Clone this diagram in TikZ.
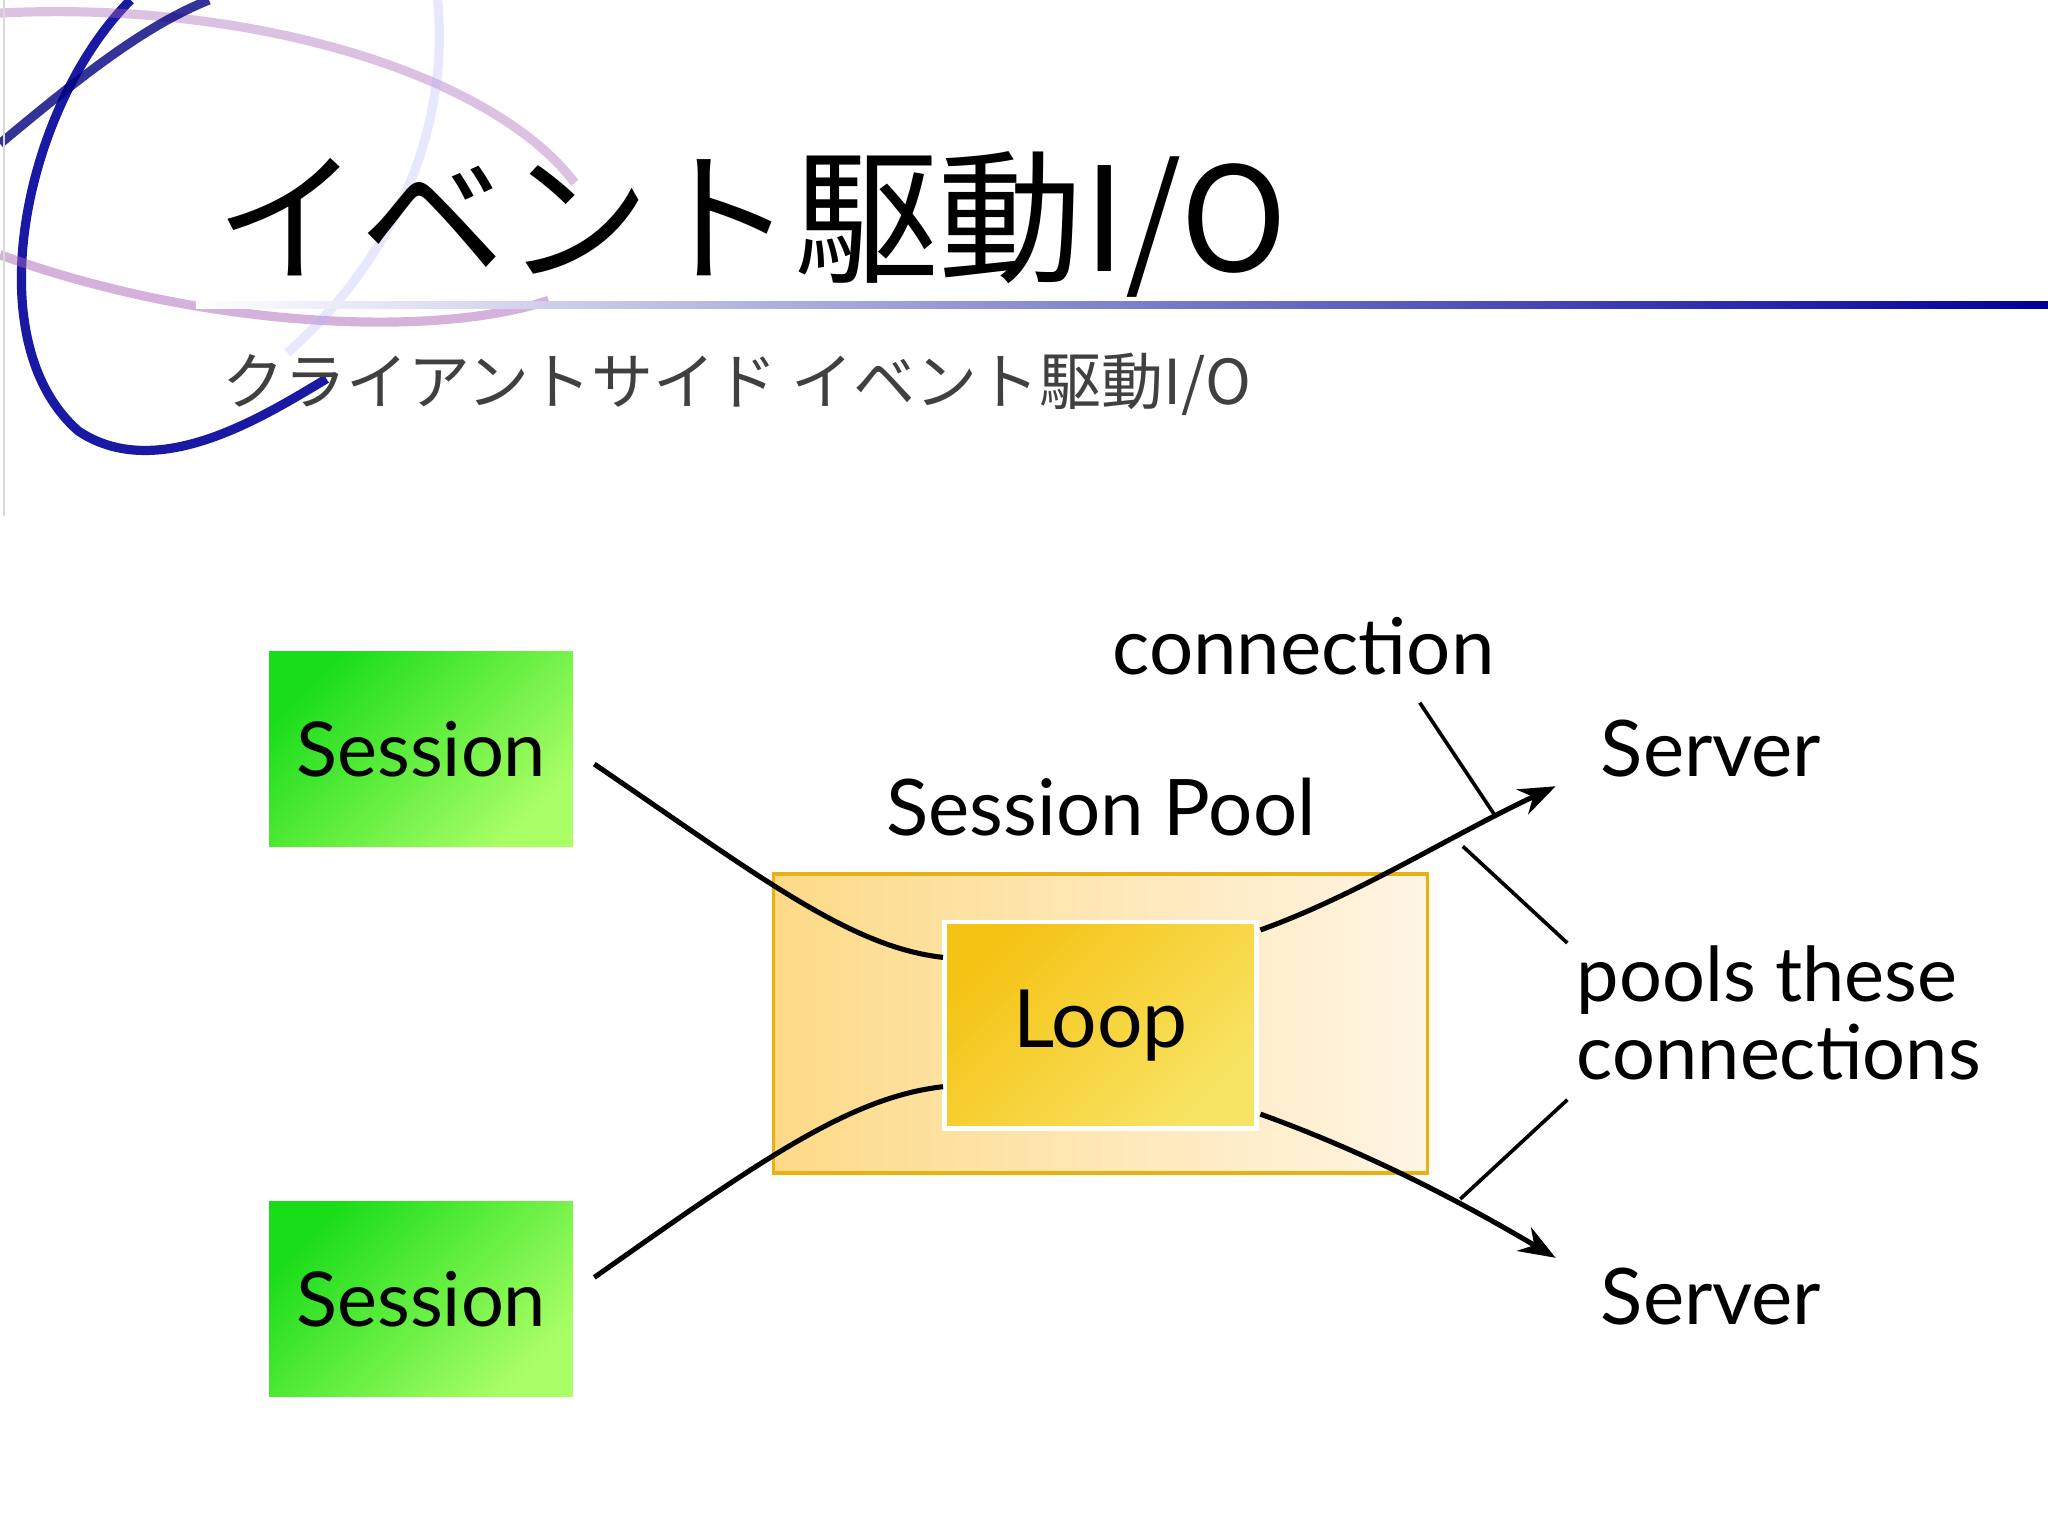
\documentclass[tikz,border=0pt]{standalone}
\usepackage{fontspec}
\setmainfont{Lato}
\newfontfamily\cjk{Noto Sans CJK JP}
\usetikzlibrary{arrows.meta}
\begin{document}
\begin{tikzpicture}[x=0.02cm,y=-0.02cm,
  sess/.style={draw=white,line width=2pt,left color=green!85!black!90,right color=green!40!lime!60,shading angle=45,minimum width=236*0.02cm,minimum height=153*0.02cm,font=\fontsize{33}{38}\selectfont},
  lbl/.style={font=\fontsize{34}{34}\selectfont,align=left},
  conn/.style={line width=2.2pt},
  note/.style={line width=1.6pt}]
\useasboundingbox (0,0) rectangle (1568,1176);
\fill[white] (0,0) rectangle (1568,1176);
% decoration
\begin{scope}[line width=4pt]
\draw[blue!60!black,opacity=0.9] (100,0) .. controls (20,80) and (-20,260) .. (60,330) .. controls (120,370) and (200,320) .. (250,290);
\draw[blue!40!purple!60,opacity=0.5] (0,195) .. controls (150,250) and (330,260) .. (420,230);
\draw[blue!40!purple!60,opacity=0.4] (0,10) .. controls (200,0) and (380,60) .. (440,140);
\draw[blue!50!black,opacity=0.8] (0,110) .. controls (60,60) and (110,20) .. (160,0);
\draw[blue!30,opacity=0.3] (335,0) .. controls (345,100) and (300,200) .. (220,270);
\draw[gray!30,line width=1pt] (3,0) -- (3,395);
\end{scope}
\shade[left color=white,right color=blue!60!black] (150,231) rectangle (1568,236);
\node[anchor=base west,font=\cjk\fontsize{63}{66}\selectfont,inner sep=0] (title) at (165,208) {イベント駆動I/O};
\node[anchor=base west,font=\cjk\fontsize{27}{30}\selectfont,text=black!75,inner sep=0] (sub) at (170,310) {クライアントサイド イベント駆動I/O};
% pool
\node[draw={rgb,255:red,232;green,176;blue,16},line width=1.5pt,shading angle=45,left color={rgb,255:red,253;green,218;blue,135},right color={rgb,255:red,255;green,245;blue,228},minimum width=501*0.02cm,minimum height=229*0.02cm] (pool) at (842.5,783.5) {};
\node[draw=white,line width=2pt,left color={rgb,255:red,245;green,195;blue,20},right color={rgb,255:red,248;green,228;blue,100},shading angle=45,minimum width=239*0.02cm,minimum height=158*0.02cm,font=\fontsize{35}{40}\selectfont] (loop) at (842.5,785) {Loop};
\node[sess] (s1) at (322.5,573.5) {Session};
\node[sess] (s2) at (322.5,994.5) {Session};
\node[lbl] (pl) at (843,618) {Session Pool};
\node[lbl] (cn) at (998,495) {connection};
\node[lbl] (sv1) at (1310,573) {Server};
\node[lbl] (sv2) at (1310,993) {Server};
\node[lbl,anchor=north west,font=\fontsize{33}{34}\selectfont,inner sep=0] (pt) at (1207,724) {pools these\\connections};
\coordinate (a1) at (455,585); \coordinate (b1) at (722,733);
\coordinate (a2) at (455,978); \coordinate (b2) at (722,832);
\coordinate (c1) at (965,712); \coordinate (d1) at (1191,602);
\coordinate (c2) at (965,853); \coordinate (d2) at (1191,963);
\draw[conn] (a1) .. controls (580,670) and (650,725) .. (b1);
\draw[conn] (a2) .. controls (580,890) and (650,840) .. (b2);
\draw[conn,-{Stealth[length=16pt,width=12pt]}] (c1) .. controls (1040,685) and (1110,640) .. (d1);
\draw[conn,-{Stealth[length=16pt,width=12pt]}] (c2) .. controls (1040,880) and (1110,915) .. (d2);
\coordinate (n1) at (1087,538); \coordinate (n2) at (1145,625);
\coordinate (n3) at (1120,648); \coordinate (n4) at (1200,722);
\coordinate (n5) at (1200,842); \coordinate (n6) at (1118,918);
\draw[note] (n1) -- (n2); \draw[note] (n3) -- (n4); \draw[note] (n5) -- (n6);
\end{tikzpicture}
\end{document}
